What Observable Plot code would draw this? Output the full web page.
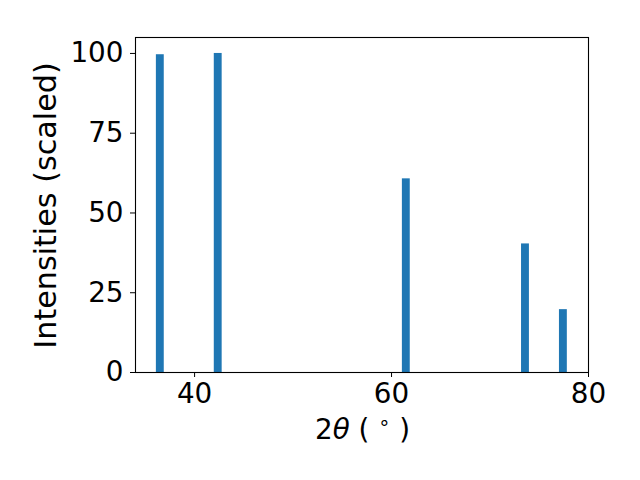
<!DOCTYPE html>
<html>
<head>
<meta charset="utf-8">
<script src="https://cdn.jsdelivr.net/npm/d3@7"></script>
<script src="https://cdn.jsdelivr.net/npm/@observablehq/plot@0.6"></script>
<style>
  html, body { margin: 0; padding: 0; background: #fff; }
</style>
</head>
<body>
<div id="chart"></div>
<script>
// Data
const twoTheta = [36.52, 42.40, 61.50, 73.60, 77.45];
const intensity = [99.6, 100.0, 60.7, 40.3, 19.7];
const barWidth = 0.8;
const xTicks = [40, 60, 80];
const yTicks = [0, 25, 50, 75, 100];

const data = twoTheta.map((x, i) => ({x, y: intensity[i]}));

const W = 640, H = 480;
const mL = 135, mR = 52, mT = 37, mB = 108;
const fs = 27.8;
const lfs = 30.2;

const plot = Plot.plot({
  width: W,
  height: H,
  marginLeft: mL,
  marginRight: mR,
  marginTop: mT,
  marginBottom: mB,
  style: {fontFamily: "DejaVu Sans", fontSize: fs + "px", background: "#fff", color: "#000"},
  x: {domain: [34.0, 80], ticks: xTicks, label: null, tickSize: 5, tickPadding: 6},
  y: {domain: [0, 105], ticks: yTicks, label: null, tickSize: 5, tickPadding: 7},
  marks: [
    Plot.rectY(data, {x1: d => d.x - barWidth / 2, x2: d => d.x + barWidth / 2, y: "y", fill: "#1f77b4"}),
    Plot.frame({stroke: "#000", strokeWidth: 1.1})
  ]
});

const svg = d3.select(plot);
// y-axis label
svg.append("text")
  .attr("transform", `translate(55.5,205.5) rotate(-90)`)
  .attr("text-anchor", "middle")
  .attr("font-family", "DejaVu Sans")
  .attr("font-size", lfs)
  .attr("fill", "#000")
  .text("Intensities (scaled)");
// x-axis label
const xl = svg.append("text")
  .attr("x", (mL + W - mR) / 2 + 1)
  .attr("y", 439)
  .attr("text-anchor", "middle")
  .attr("font-family", "DejaVu Sans")
  .attr("font-size", fs)
  .attr("fill", "#000");
xl.append("tspan").text("2");
xl.append("tspan").attr("font-style", "italic").text("θ");
xl.append("tspan").text(" ( ");
xl.append("tspan").attr("font-size", fs * 0.7).attr("dy", -10).text("∘");
xl.append("tspan").attr("dy", 10).text(" )");

document.getElementById("chart").appendChild(plot);
</script>
</body>
</html>
